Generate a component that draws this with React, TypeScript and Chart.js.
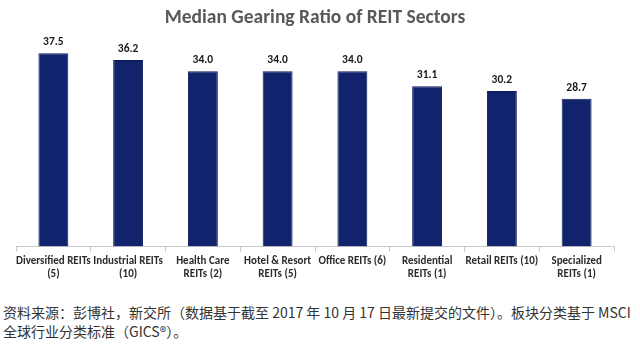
import React, { useEffect, useRef } from "react";
import { Chart, registerables } from "chart.js";

Chart.register(...registerables);

const title = "Median Gearing Ratio of REIT Sectors";
const categories: (string | string[])[] = [
  ["Diversified REITs", "(5)"],
  ["Industrial REITs", "(10)"],
  ["Health Care", "REITs (2)"],
  ["Hotel & Resort", "REITs (5)"],
  "Office REITs (6)",
  ["Residential", "REITs (1)"],
  "Retail REITs (10)",
  ["Specialized", "REITs (1)"],
];
const gearing = [37.5, 36.2, 34.0, 34.0, 34.0, 31.1, 30.2, 28.7];
const footerLines = [
  "资料来源：彭博社，新交所（数据基于截至 2017 年 10 月 17 日最新提交的文件）。板块分类基于 MSCI",
  "全球行业分类标准（GICS®）。",
];

const FONT = "Carlito, Lato, 'DejaVu Sans', sans-serif";

const valueLabels = {
  id: "valueLabels",
  afterDatasetsDraw(chart: any) {
    const ctx = chart.ctx;
    const meta = chart.getDatasetMeta(0);
    ctx.save();
    ctx.font = `bold 11.5px ${FONT}`;
    ctx.fillStyle = "#1a1a1a";
    ctx.textAlign = "center";
    ctx.textBaseline = "bottom";
    meta.data.forEach((bar: any, i: number) => {
      const v = chart.data.datasets[0].data[i] as number;
      ctx.fillText(v.toFixed(1), bar.x, bar.y - 5);
    });
    ctx.restore();
  },
};

export default function App() {
  const ref = useRef<HTMLCanvasElement | null>(null);
  useEffect(() => {
    if (!ref.current) return;
    const chart = new Chart(ref.current, {
      type: "bar",
      data: {
        labels: categories,
        datasets: [
          {
            data: gearing,
            backgroundColor: "#12236d",
            borderColor: "#0c1a5a",
            borderWidth: 1,
            barPercentage: 0.8,
            categoryPercentage: 0.5,
          },
        ],
      },
      options: {
        animation: false,
        responsive: false,
        layout: { padding: { left: 16, right: 26, bottom: 16, top: 0 } },
        plugins: {
          legend: { display: false },
          tooltip: { enabled: false },
          title: {
            display: true,
            text: title,
            color: "#595959",
            font: { family: FONT, size: 19.5, weight: "bold" },
            padding: { top: 6, bottom: 11 },
          },
        },
        scales: {
          x: {
            grid: {
              display: true,
              drawOnChartArea: false,
              drawTicks: true,
              tickLength: 5,
              color: "#c8c8c8",
              offset: true,
            },
            border: { display: true, color: "#c8c8c8" },
            ticks: {
              color: "#2b2b2b",
              font: { family: FONT, size: 11, weight: "bold" },
              maxRotation: 0,
              autoSkip: false,
              padding: 3,
            },
          },
          y: {
            display: false,
            min: 0,
            max: 40,
          },
        },
      },
      plugins: [valueLabels],
    });
    return () => chart.destroy();
  }, []);
  return (
    <div style={{ position: "absolute", left: 0, top: 0, width: 640, height: 354, background: "#fff" }}>
      <canvas ref={ref} width={640} height={300} style={{ display: "block" }} />
      <div
        style={{
          position: "absolute",
          left: 3,
          top: 303,
          width: 640,
          fontFamily: "'Noto Sans CJK SC', sans-serif",
          fontSize: 14,
          lineHeight: "19px",
          color: "#333",
          whiteSpace: "nowrap",
        }}
      >
        {footerLines.map((l, i) => (
          <div key={i}>{l}</div>
        ))}
      </div>
    </div>
  );
}
